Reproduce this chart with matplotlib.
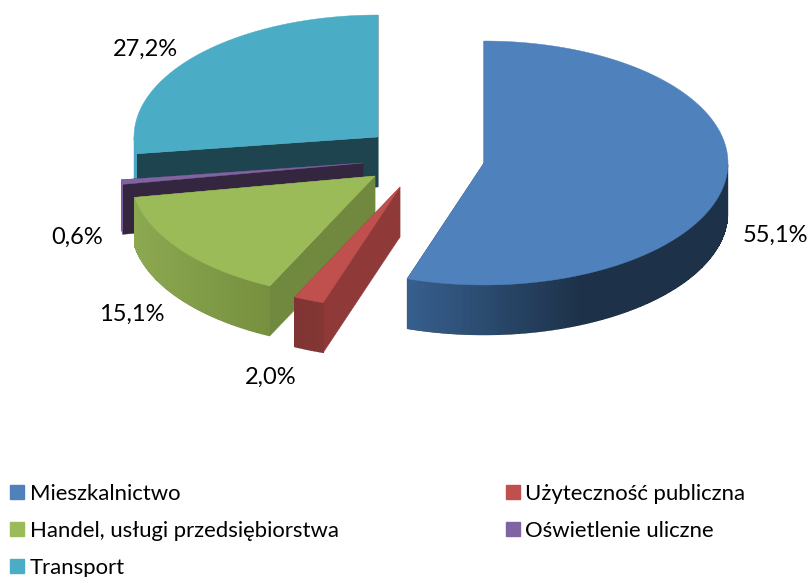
import numpy as np
import matplotlib
matplotlib.use("Agg")
import matplotlib.pyplot as plt
from matplotlib.collections import PolyCollection
from matplotlib.colors import to_rgb
from matplotlib.patches import Patch

plt.rcParams["font.family"] = "Lato"

# dane
categories = ["Mieszkalnictwo", "Użyteczność publiczna", "Handel, usługi przedsiębiorstwa",
              "Oświetlenie uliczne", "Transport"]
values = [55.1, 2.0, 15.1, 0.6, 27.2]

# wyglad
colors = ["#4F81BD", "#C0504D", "#9BBB59", "#8064A2", "#4BACC6"]
face_colors = ["#1D3149", "#8F3A38", "#71893F", "#35263F", "#1D444F"]
arc_left = ["#37608F", "#7F3533", "#8CA850", "#7A5C9A", "#4BA6BF"]
arc_right = ["#1D3149", "#833735", "#76903F", "#7A5C9A", "#4BA6BF"]
arc_dark_x = [583, 324, 269, 123, 140]
apex_x = [484, 400, 375, 363, 378]
apex_y = [163, 187, 176, 163, 137]
label_x = [775, 271, 132, 77, 145]
label_y = [235, 377, 314, 237, 49]
a, b, depth = 244, 122, 50

fig = plt.figure(figsize=(8.11, 5.77), dpi=100)
ax = fig.add_axes([0, 0, 1, 1])
ax.set_xlim(0, 811)
ax.set_ylim(577, 0)
ax.axis("off")

edges = np.radians(np.concatenate([[0], np.cumsum(values)]) * 3.6)

# rysowanie od tylu do przodu: transport, oswietlenie, handel, uzytecznosc, mieszkalnictwo
for i in [4, 3, 2, 1, 0]:
    t = np.linspace(edges[i], edges[i + 1], 200)
    x = apex_x[i] + a * np.sin(t)
    y = apex_y[i] - b * np.cos(t)

    # sciany promieniowe
    for k in [0, -1]:
        quad = [(apex_x[i], apex_y[i]), (x[k], y[k]), (x[k], y[k] + depth), (apex_x[i], apex_y[i] + depth)]
        ax.fill(*zip(*quad), color=face_colors[i], lw=0.3, zorder=i * -3 + 20)

    # sciana lukowa, tylko dolna polowa elipsy; jeden ksztalt na dole daje gladka krawedz
    front = np.cos(t) <= 0
    if front.sum() > 1:
        xf, yf = x[front], y[front]
        ax.fill(np.r_[xf, xf[::-1]], np.r_[yf, yf[::-1] + depth], color=arc_right[i], lw=0.3,
                zorder=i * -3 + 21)
        quads = [[(xf[j], yf[j]), (xf[j + 1], yf[j + 1]), (xf[j + 1], yf[j + 1] + depth - 0.7),
                  (xf[j], yf[j] + depth - 0.7)] for j in range(len(xf) - 1)]
        w = np.interp(xf[:-1], [xf.min(), arc_dark_x[i]], [0, 1])[:, None]
        shades = (1 - w) * np.array(to_rgb(arc_left[i])) + w * np.array(to_rgb(arc_right[i]))
        ax.add_collection(PolyCollection(quads, facecolors=shades, edgecolors="none",
                                         antialiaseds=False, zorder=i * -3 + 21))

    # gora
    ax.fill(np.r_[apex_x[i], x], np.r_[apex_y[i], y], color=colors[i], lw=0.3, zorder=i * -3 + 22)

    ax.text(label_x[i], label_y[i], f"{values[i]:.1f}%".replace(".", ","), fontsize=17,
            ha="center", va="center", color="black", zorder=40)

# legenda: matplotlib wypelnia kolumnami, stad kolejnosc
order = [0, 2, 4, 1, 3]
handles = [Patch(color=colors[i], label=categories[i]) for i in order]
ax.legend(handles=handles, ncols=2, frameon=False, fontsize=15.9, loc="upper left",
          bbox_to_anchor=(10 / 811, 1 - 484 / 577), borderpad=0, borderaxespad=0,
          handlelength=0.63, handleheight=0.63, handletextpad=0.27, labelspacing=0.77,
          columnspacing=7.55, labelcolor="black")

fig.savefig("out.png", dpi=100)
